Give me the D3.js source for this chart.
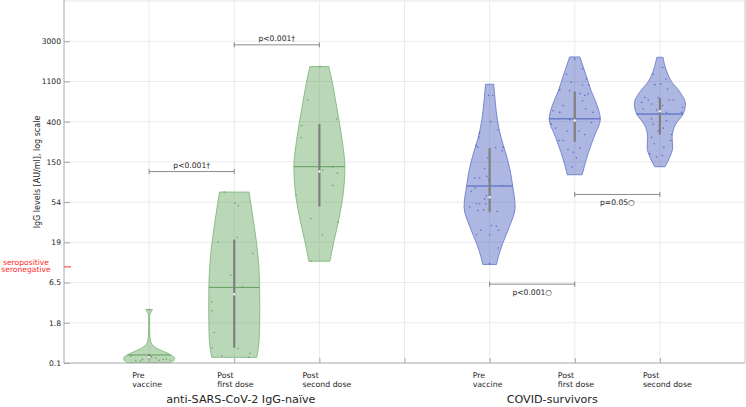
<!DOCTYPE html>
<html><head><meta charset="utf-8">
<script src="https://cdn.jsdelivr.net/npm/d3@7"></script>
<style>body{margin:0;background:#fff}svg{display:block;font-family:"DejaVu Sans",sans-serif}</style>
</head><body><svg id="c" width="746" height="407"></svg>
<script>
// ---------- data (y values in log-scale axis units) ----------
const positions = [1, 2, 3, 5, 6, 7];
const categoryLines = [["Pre","vaccine"],["Post","first dose"],["Post","second dose"],["Pre","vaccine"],["Post","first dose"],["Post","second dose"]];
const groupNames = ["anti-SARS-CoV-2 IgG-naïve", "COVID-survivors"];
const groupStart = [1, 5];
const groupOf = [0, 0, 0, 1, 1, 1];
const yTickValues = [0, 1, 2, 3, 4, 5, 6, 7, 8];
const yTickLabels = ["0.1", "1.8", "6.5", "19", "54", "150", "400", "1100", "3000"];
const seroCutoff = 2.39;

// density profiles [level, relative width]
const dens1 = [[1.33,0.13],[1.25,0.06],[1.18,0.02],[1.0,0.02],[0.8,0.02],[0.6,0.04],[0.5,0.08],[0.42,0.18],[0.35,0.35],[0.28,0.6],[0.2,0.85],[0.12,1.0],[0.06,0.97],[0.01,0.85]];
const dens2 = [[4.25,0.58],[4.0,0.64],[3.5,0.76],[3.0,0.87],[2.5,0.95],[2.0,0.99],[1.4,1.0],[0.8,0.99],[0.4,0.95],[0.14,0.88]];
const dens3 = [[7.37,0.37],[7.0,0.5],[6.5,0.64],[6.11,0.75],[5.5,0.9],[4.87,1.0],[4.3,0.95],[3.63,0.78],[3.0,0.56],[2.53,0.41]];
const dens5 = [[6.93,0.16],[6.5,0.22],[6.02,0.31],[5.6,0.45],[5.2,0.64],[4.8,0.8],[4.41,0.9],[3.88,1.0],[3.38,0.77],[2.97,0.51],[2.64,0.34],[2.45,0.27]];
const dens6 = [[7.61,0.2],[7.18,0.43],[6.77,0.64],[6.4,0.88],[6.07,1.0],[5.61,0.75],[5.2,0.52],[4.9,0.38],[4.68,0.29]];
const dens7 = [[7.6,0.12],[7.18,0.31],[7.0,0.45],[6.77,0.75],[6.44,1.0],[6.19,0.91],[5.94,0.62],[5.61,0.48],[5.36,0.5],[5.12,0.39],[4.88,0.2]];
const densities = [dens1, dens2, dens3, dens5, dens6, dens7];

// observations [level, horizontal offset in category units]
const pts1 = [[0.17,-0.215],[0.06,-0.156],[0.09,-0.079],[0.14,0.031],[0.12,0.079],[0.07,0.118],[0.09,0.165],[0.10,0.203],[0.07,0.247],[0.2,-0.008],[0.17,0.02],[0.05,-0.1],[1.33,0]];
const pts2 = [[4.25,-0.118],[3.97,0.008],[3.91,0.047],[3.12,0.035],[3.01,-0.188],[2.72,0.216],[2.18,-0.039],[1.89,0.098],[1.52,-0.265],[1.30,-0.265],[0.76,-0.235],[0.36,0.047],[0.18,-0.145],[0.24,0.184],[0.14,0.172],[0.38,-0.258]];
const pts3 = [[7.37,0.008],[6.54,-0.136],[6.07,0.204],[5.90,-0.207],[5.60,-0.215],[4.87,0.157],[4.80,0.04],[4.72,0.212],[4.41,0.157],[4.18,-0.274],[3.59,-0.101],[3.50,0.223],[3.19,0.035],[2.53,-0.098]];
const pts5 = [[6.65,-0.012],[6.65,0.039],[6.0,0.012],[5.80,0.098],[5.71,-0.118],[5.61,-0.126],[5.41,-0.157],[5.36,-0.137],[5.35,0.071],[5.36,0.157],[5.28,0.149],[5.10,-0.02],[4.83,-0.059],[4.64,-0.032],[4.60,-0.176],[4.60,-0.118],[4.54,-0.008],[4.41,0.149],[4.35,-0.168],[4.27,-0.215],[4.16,-0.039],[4.08,-0.059],[3.96,-0.156],[3.96,-0.118],[3.96,-0.047],[3.88,-0.235],[3.79,-0.137],[3.81,-0.071],[3.77,0.09],[3.42,0.02],[3.40,0.079],[3.30,0.102],[3.30,-0.106],[3.19,-0.153],[3.19,0],[2.86,0.102],[2.47,0]];
const pts6 = [[7.56,0],[7.18,-0.098],[7.31,0.09],[6.98,-0.039],[6.91,0.09],[7.06,0.137],[6.91,0.168],[6.79,-0.176],[6.77,-0.059],[6.70,0.059],[6.65,0.118],[6.52,0.09],[6.40,-0.137],[6.27,-0.255],[6.32,0.129],[6.23,0.215],[5.94,-0.274],[5.84,-0.223],[5.98,0.196],[5.76,-0.09],[5.76,0.051],[5.53,-0.137],[5.34,0.059],[5.30,-0.079],[5.24,-0.02],[5.10,0.02],[4.87,-0.032],[5.53,-0.184],[5.68,0.118],[6.05,-0.059],[6.23,-0.176],[6.69,0.157]];
const pts7 = [[7.35,0.031],[7.18,-0.078],[7.06,0.07],[6.92,-0.059],[6.94,0.012],[6.81,0.09],[6.60,-0.176],[6.54,-0.137],[6.60,-0.02],[6.54,0.109],[6.54,0.157],[6.48,-0.215],[6.44,-0.098],[6.40,0.031],[6.36,0.267],[6.32,-0.196],[6.29,-0.039],[6.23,0.078],[6.23,0.255],[6.07,-0.098],[6.03,0.078],[5.94,-0.078],[5.84,0.039],[5.77,-0.02],[5.68,0.137],[5.61,-0.098],[5.45,-0.067],[5.53,0.125],[5.36,0.047],[5.20,-0.118],[5.12,-0.039],[5.16,0.031]];
const points = [pts1, pts2, pts3, pts5, pts6, pts7];

const q1 = [0.09, 0.38, 3.89, 3.75, 5.50, 5.68];
const q3 = [0.22, 3.07, 5.94, 5.34, 6.75, 6.59];
const medians = [0.14, 1.71, 4.76, 4.12, 6.03, 6.26];
const means = [0.20, 1.88, 4.88, 4.40, 6.07, 6.19];

const comparisons = [
  {from: 2, to: 3, level: 7.91, label: "p<0.001\u2020", side: "above"},
  {from: 1, to: 2, level: 4.76, label: "p<0.001\u2020", side: "above"},
  {from: 6, to: 7, level: 4.19, label: "p=0.05\u25CB", side: "below"},
  {from: 5, to: 6, level: 1.96, label: "p<0.001\u25CB", side: "below"}
];

// ---------- styles ----------
const fillCol = ["#65a961", "#4b5fbd"];
const edgeCol = ["#78b374", "#6272c8"];
const meanCol = ["#5f9e5b", "#4a5ec0"];
const dotCol = ["#4f8a4b", "#3a4fb0"];
const maxHalf = 0.3;

const svg = d3.select("#c");
const L = 64, R = 745, T = 1, B = 363;
const x = d3.scaleLinear().domain([0, 8]).range([L, R]);
const y = d3.scaleLinear().domain([0, 9]).range([B, T]);
const halfPx = r => x(maxHalf * r) - x(0);

// grid
const g = svg.append("g");
g.selectAll(".vg").data(d3.range(1, 8)).join("line")
  .attr("x1", d => x(d)).attr("x2", d => x(d)).attr("y1", T).attr("y2", B)
  .attr("stroke", "#ebebeb").attr("stroke-width", 1);
g.selectAll(".hg").data(yTickValues.slice(1)).join("line")
  .attr("x1", L).attr("x2", R).attr("y1", d => y(d)).attr("y2", d => y(d))
  .attr("stroke", "#ebebeb").attr("stroke-width", 1);
svg.append("line").attr("x1", L).attr("x2", R).attr("y1", T).attr("y2", T).attr("stroke", "#e6e6e6");

// violins
positions.forEach((p, i) => {
  const gi = groupOf[i];
  const vg = svg.append("g");
  const area = d3.area()
    .y(d => y(d[0]))
    .x0(d => x(p) - halfPx(d[1]))
    .x1(d => x(p) + halfPx(d[1]))
    .curve(d3.curveMonotoneY);
  vg.append("path").datum(densities[i]).attr("d", area)
    .attr("fill", fillCol[gi]).attr("fill-opacity", 0.45)
    .attr("stroke", edgeCol[gi]).attr("stroke-width", 0.8);
  vg.selectAll("circle.pt").data(points[i]).join("circle")
    .attr("cx", d => x(p + d[1])).attr("cy", d => y(d[0])).attr("r", 0.8)
    .attr("fill", dotCol[gi]).attr("fill-opacity", 0.7);
  const interp = lv => {
    const arr = densities[i].slice().sort((a, b) => a[0] - b[0]);
    for (let k = 0; k < arr.length - 1; k++) {
      if (lv >= arr[k][0] && lv <= arr[k + 1][0]) {
        const t = (lv - arr[k][0]) / (arr[k + 1][0] - arr[k][0]);
        return arr[k][1] + t * (arr[k + 1][1] - arr[k][1]);
      }
    }
    return arr[0][1];
  };
  const mw = interp(means[i]);
  vg.append("line").attr("x1", x(p) - halfPx(mw)).attr("x2", x(p) + halfPx(mw))
    .attr("y1", y(means[i])).attr("y2", y(means[i]))
    .attr("stroke", meanCol[gi]).attr("stroke-width", 1);
  vg.append("line").attr("x1", x(p)).attr("x2", x(p))
    .attr("y1", y(q1[i])).attr("y2", y(q3[i]))
    .attr("stroke", "#7f7f7f").attr("stroke-width", 2.2);
  vg.append("circle").attr("cx", x(p)).attr("cy", y(medians[i])).attr("r", 1.3)
    .attr("fill", "#fff").attr("stroke", "#9a9a9a").attr("stroke-width", 0.3);
});

// axes frame
const axisCol = "#a8a8a8";
svg.append("line").attr("x1", L).attr("x2", L).attr("y1", 0).attr("y2", B + 0.5).attr("stroke", axisCol);
svg.append("line").attr("x1", L).attr("x2", R).attr("y1", B).attr("y2", B).attr("stroke", axisCol);
svg.append("line").attr("x1", R).attr("x2", R).attr("y1", 0).attr("y2", B).attr("stroke", "#c8c8c8");

const yAxis = d3.axisLeft(y).tickValues(yTickValues).tickSize(-6).tickPadding(9)
  .tickFormat((d, i) => yTickLabels[i]);
const ya = svg.append("g").attr("transform", `translate(${L},0)`).call(yAxis);
ya.select(".domain").remove();
ya.selectAll(".tick line").attr("stroke", axisCol);
ya.selectAll(".tick text").attr("font-size", 7.6).attr("fill", "#262626")
  .attr("font-family", "DejaVu Sans").attr("dx", 6).attr("dy", "0.32em");

const xa = svg.append("g").attr("transform", `translate(0,${B})`)
  .call(d3.axisBottom(x).tickValues(d3.range(1, 8)).tickSize(-5).tickFormat(""));
xa.select(".domain").remove();
xa.selectAll(".tick line").attr("stroke", axisCol);

positions.forEach((p, i) => {
  const t = svg.append("text").attr("x", x(p) - 17).attr("y", 378)
    .attr("font-size", 7.8).attr("fill", "#262626");
  categoryLines[i].forEach((ln, k) => {
    t.append("tspan").attr("x", x(p) - 17).attr("y", 378 + k * 9).text(ln);
  });
});
groupNames.forEach((nm, k) => {
  svg.append("text").attr("x", x(groupStart[k]) + 17).attr("y", 403)
    .attr("font-size", 11.2).attr("fill", "#262626").text(nm);
});

svg.append("text").attr("transform", "translate(40,172) rotate(-90)")
  .attr("text-anchor", "middle").attr("font-size", 8).attr("fill", "#262626")
  .text("IgG levels [AU/ml], log scale");

svg.append("line").attr("x1", L).attr("x2", L + 7).attr("y1", y(seroCutoff)).attr("y2", y(seroCutoff))
  .attr("stroke", "#ff3030").attr("stroke-width", 1);
svg.append("text").attr("x", 26).attr("y", y(seroCutoff) - 2).attr("text-anchor", "middle")
  .attr("font-size", 7.6).attr("fill", "#ff2a2a").text("seropositive");
svg.append("text").attr("x", 26).attr("y", y(seroCutoff) + 5.5).attr("text-anchor", "middle")
  .attr("font-size", 7.6).attr("fill", "#ff2a2a").text("seronegative");

comparisons.forEach(c => {
  const yy = y(c.level);
  const x1 = x(c.from), x2 = x(c.to);
  const cg = svg.append("g").attr("stroke", "#6e6e6e").attr("stroke-width", 0.8);
  cg.append("line").attr("x1", x1).attr("x2", x2).attr("y1", yy).attr("y2", yy);
  cg.append("line").attr("x1", x1).attr("x2", x1).attr("y1", yy - 2.5).attr("y2", yy + 2.5);
  cg.append("line").attr("x1", x2).attr("x2", x2).attr("y1", yy - 2.5).attr("y2", yy + 2.5);
  svg.append("text").attr("x", (x1 + x2) / 2).attr("y", c.side === "above" ? yy - 4 : yy + 11)
    .attr("text-anchor", "middle").attr("font-size", 7.6).attr("fill", "#262626").text(c.label);
});
</script></body></html>
